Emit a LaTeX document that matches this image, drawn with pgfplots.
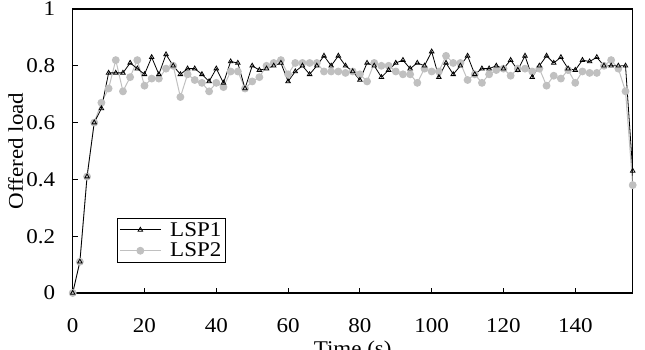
\documentclass[border=0pt]{standalone}
\usepackage{pgfplots}
\pgfplotsset{compat=1.18}
\usepackage{pgfplotstable}
\usepackage{fontspec}
\setmainfont{Liberation Serif}[FakeStretch=1.1]
\definecolor{lspgray}{RGB}{192,192,192}

\pgfplotstableread{
t v
0 0
2 0.11
4 0.41
6 0.60
8 0.65
10 0.775
12 0.775
14 0.775
16 0.81
18 0.79
20 0.77
22 0.83
24 0.77
26 0.84
28 0.80
30 0.77
32 0.79
34 0.79
36 0.77
38 0.745
40 0.79
42 0.74
44 0.815
46 0.81
48 0.72
50 0.80
52 0.785
54 0.79
56 0.80
58 0.81
60 0.745
62 0.78
64 0.80
66 0.77
68 0.80
70 0.835
72 0.80
74 0.835
76 0.80
78 0.78
80 0.75
82 0.81
84 0.80
86 0.76
88 0.785
90 0.81
92 0.82
94 0.79
96 0.81
98 0.80
100 0.85
102 0.76
104 0.81
106 0.77
108 0.80
110 0.835
112 0.77
114 0.79
116 0.79
118 0.80
120 0.79
122 0.82
124 0.785
126 0.835
128 0.76
130 0.80
132 0.835
134 0.81
136 0.83
138 0.79
140 0.785
142 0.82
144 0.815
146 0.83
148 0.80
150 0.80
152 0.80
154 0.80
156 0.43
}\lspone

\pgfplotstableread{
t v
0 0
2 0.11
4 0.41
6 0.60
8 0.67
10 0.72
12 0.82
14 0.71
16 0.76
18 0.82
20 0.73
22 0.755
24 0.755
26 0.79
28 0.80
30 0.69
32 0.77
34 0.75
36 0.74
38 0.71
40 0.74
42 0.725
44 0.78
46 0.78
48 0.72
50 0.745
52 0.76
54 0.80
56 0.81
58 0.82
60 0.77
62 0.81
64 0.81
66 0.81
68 0.81
70 0.78
72 0.78
74 0.78
76 0.775
78 0.78
80 0.77
82 0.745
84 0.81
86 0.80
88 0.80
90 0.78
92 0.77
94 0.77
96 0.74
98 0.79
100 0.78
102 0.78
104 0.835
106 0.81
108 0.81
110 0.75
112 0.77
114 0.74
116 0.77
118 0.785
120 0.79
122 0.765
124 0.79
126 0.79
128 0.78
130 0.79
132 0.73
134 0.765
136 0.755
138 0.785
140 0.74
142 0.78
144 0.775
146 0.775
148 0.80
150 0.82
152 0.79
154 0.71
156 0.38
}\lsptwo

\begin{document}
\begin{tikzpicture}[font=\fontsize{21}{25}\selectfont]
\begin{axis}[
  scale only axis,
  width=560bp, height=284bp,
  xmin=0, xmax=156, ymin=0, ymax=1,
  xtick={0,20,...,140},
  ytick={0,0.2,0.4,0.6,0.8,1},
  yticklabels={0,0.2,0.4,0.6,0.8,1},
  tick align=inside,
  xtick pos=bottom, ytick pos=left,
  major tick length=5bp,
  axis line style={line width=1.3bp},
  tick style={line width=0.8bp, black},
  /pgf/number format/assume math mode=true,
  yticklabel style={xshift=-14bp},
  xticklabel style={yshift=-22bp},
  xlabel={Time (s)},
  ylabel={Offered load},
  every axis x label/.style={at={([yshift=-44bp]rel axis cs:0.5,0)}, anchor=north},
  every axis y label/.style={at={([xshift=-57bp]rel axis cs:0,0.5)}, rotate=90, anchor=center},
  legend style={at={(0.079,0.106)}, anchor=south west, draw=black, line width=1bp,
    font=\fontsize{21}{25}\selectfont, cells={anchor=west}, inner sep=2bp, row sep=1.5bp},
  legend image code/.code={\draw[mark repeat=2,mark phase=2,#1] plot coordinates {(0cm,0cm) (0.72cm,0cm) (1.44cm,0cm)}; \path (1.44cm+7bp,0cm);},
  reverse legend,
]
\addplot[color=lspgray, line width=1bp, mark=*, mark size=3.4bp, mark options={fill=lspgray, draw=lspgray}] table[x=t,y=v] {\lsptwo};
\addlegendentry{LSP2}
\addplot[color=black, line width=0.8bp, mark=triangle, mark size=2.6bp, mark options={draw=black, fill=white, line width=0.8bp}] table[x=t,y=v] {\lspone};
\addlegendentry{LSP1}
\coordinate (BL) at (rel axis cs:0,0);
\coordinate (TR) at (rel axis cs:1,1);
\end{axis}
\pgfresetboundingbox
\useasboundingbox ([xshift=-72.7bp,yshift=-57bp]BL) rectangle ([xshift=12.3bp,yshift=9bp]TR);
\end{tikzpicture}
\end{document}
